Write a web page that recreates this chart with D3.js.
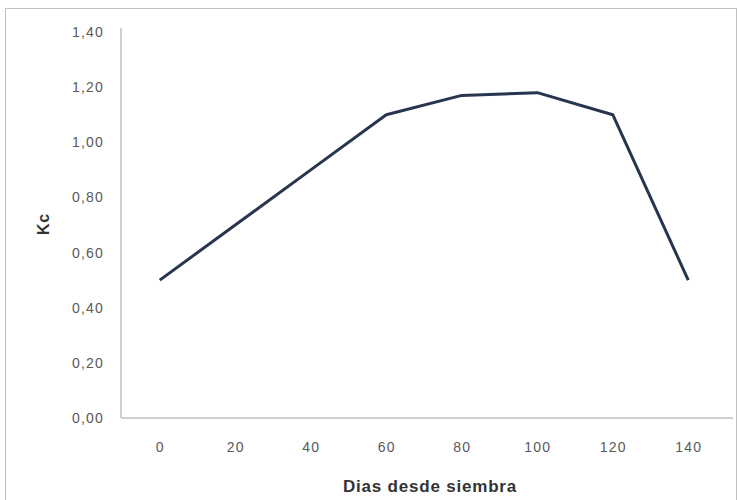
<!DOCTYPE html>
<meta charset="utf-8">
<title>Kc</title>
<style>
body { margin: 0; background: #fff; }
svg { display: block; font-family: "Liberation Sans", Arial, sans-serif; }
.tick text { fill: #595959; font-size: 14px; letter-spacing: 1.2px; }
</style>
<svg width="741" height="500"></svg>
<script src="https://cdn.jsdelivr.net/npm/d3@7"></script>
<script>

// dias desde siembra y coeficiente de cultivo
var dias = [0, 20, 40, 60, 80, 100, 120, 140];
var kc = [0.50, 0.70, 0.90, 1.10, 1.17, 1.18, 1.10, 0.50];
var yTicks = [0, 0.2, 0.4, 0.6, 0.8, 1.0, 1.2, 1.4];

var svg = d3.select("svg");

var margin = {left: 121, right: 8, top: 32, bottom: 82};
var width = 741, height = 500;

// outer chart border
svg.append("rect")
    .attr("x", 5.5).attr("y", 8.5)
    .attr("width", 731).attr("height", 500)
    .attr("fill", "none")
    .attr("stroke", "#bfbfbf");

var x = d3.scalePoint()
    .domain(dias)
    .range([margin.left + 1, width - 15])
    .padding(0.5);

var y = d3.scaleLinear()
    .domain([0, 1.4])
    .range([height - margin.bottom, margin.top]);

var fmt = function(d) { return d3.format(".2f")(d).replace(".", ","); };

// y axis
var gy = svg.append("g")
    .attr("transform", "translate(" + margin.left + ",0)")
    .call(d3.axisLeft(y).tickValues(yTicks).tickFormat(fmt).tickSize(0).tickPadding(17));
gy.select(".domain").attr("stroke", "#bfbfbf").attr("stroke-width", 1.5)
    .attr("d", "M0," + (margin.top - 4) + "V" + (height - margin.bottom));

// x axis
var gx = svg.append("g")
    .attr("transform", "translate(0," + (height - margin.bottom) + ")")
    .call(d3.axisBottom(x).tickSize(0).tickPadding(24));
gx.select(".domain").attr("stroke", "#bfbfbf").attr("stroke-width", 1.5)
    .attr("d", "M" + margin.left + ",0H" + (width - margin.right));

// line
svg.append("path")
    .datum(dias.map(function(d, i) { return [d, kc[i]]; }))
    .attr("fill", "none")
    .attr("stroke", "#27354f")
    .attr("stroke-width", 3)
    .attr("stroke-linejoin", "round")
    .attr("d", d3.line()
        .x(function(d) { return x(d[0]); })
        .y(function(d) { return y(d[1]); }));

// axis titles
svg.append("text")
    .attr("x", 430)
    .attr("y", 492)
    .attr("text-anchor", "middle")
    .attr("font-size", 17)
    .attr("letter-spacing", 0.8)
    .attr("font-weight", "bold")
    .attr("fill", "#333")
    .text("Dias desde siembra");

svg.append("text")
    .attr("transform", "translate(49,224) rotate(-90)")
    .attr("text-anchor", "middle")
    .attr("font-size", 16)
    .attr("letter-spacing", 0.8)
    .attr("font-weight", "bold")
    .attr("fill", "#333")
    .text("Kc");

</script>
